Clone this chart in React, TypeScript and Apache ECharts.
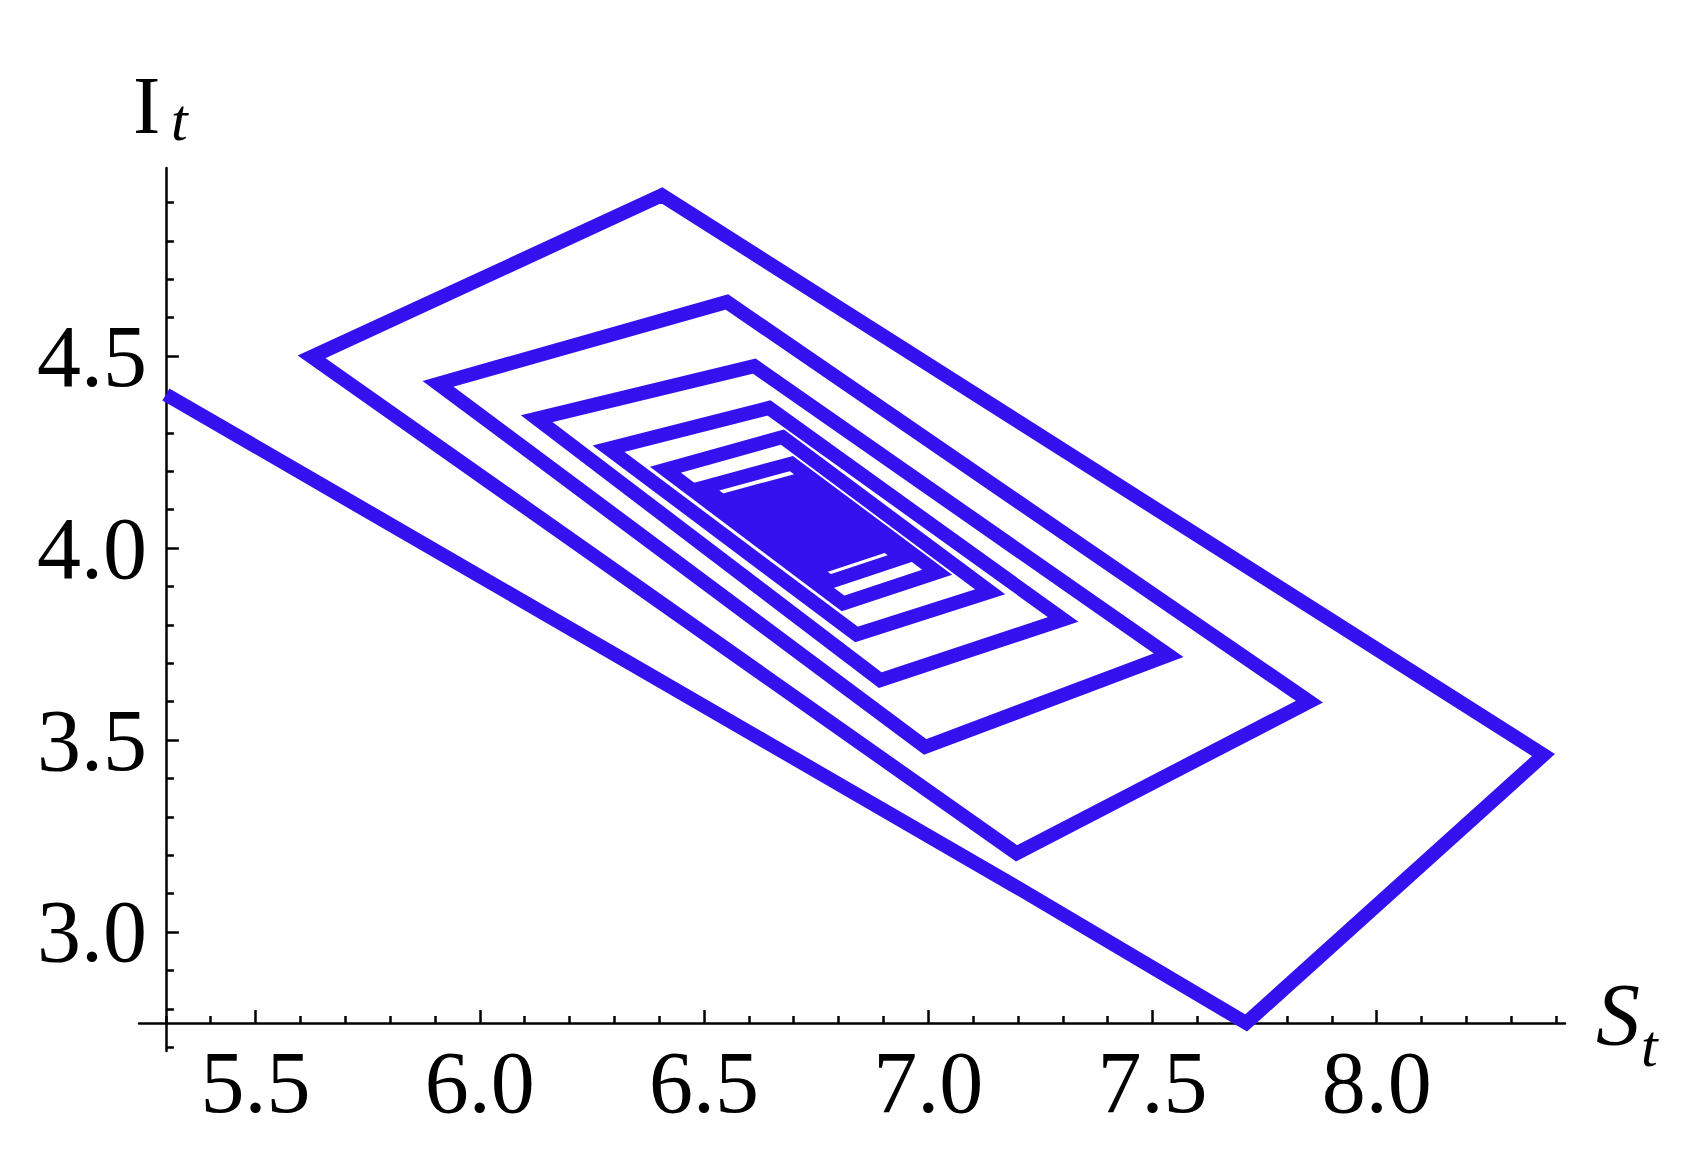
import React, { useEffect, useRef } from "react";
import * as echarts from "echarts";

// Trajectory (S_t, I_t), in time order
const S_VALUES = [
  5.3, 7.197, 7.709, 8.372, 6.406, 5.625, 7.197, 7.85, 6.551, 5.907,
  6.993, 7.536, 6.612, 6.127, 6.893, 7.301, 6.645, 6.287, 6.84, 7.138,
  6.675, 6.414, 6.81, 7.02, 6.695, 6.499, 6.78, 6.943, 6.712, 6.563,
  6.764, 6.883, 6.714, 6.604, 6.757, 6.843, 6.716, 6.636, 6.752, 6.816,
  6.718, 6.66, 6.748, 6.794, 6.72, 6.678, 6.745, 6.779, 6.723, 6.691,
  6.742, 6.768, 6.726, 6.701, 6.735,
];
const I_VALUES = [
  4.4, 3.117, 2.763, 3.461, 4.919, 4.498, 3.205, 3.6, 4.641, 4.428,
  3.482, 3.721, 4.474, 4.337, 3.656, 3.814, 4.365, 4.259, 3.775, 3.886,
  4.289, 4.204, 3.856, 3.937, 4.22, 4.158, 3.912, 3.975, 4.177, 4.13,
  3.953, 3.999, 4.148, 4.113, 3.98, 4.013, 4.125, 4.1, 3.998, 4.022,
  4.108, 4.089, 4.012, 4.03, 4.094, 4.081, 4.022, 4.035, 4.084, 4.074,
  4.03, 4.04, 4.077, 4.069, 4.052,
];

const X_MAJOR_TICKS = [5.5, 6.0, 6.5, 7.0, 7.5, 8.0];
const X_MINOR_TICKS = [
  5.3, 5.4, 5.6, 5.7, 5.8, 5.9, 6.1, 6.2, 6.3, 6.4, 6.6, 6.7, 6.8, 6.9,
  7.1, 7.2, 7.3, 7.4, 7.6, 7.7, 7.8, 7.9, 8.1, 8.2, 8.3, 8.4,
];
const Y_MAJOR_TICKS = [3.0, 3.5, 4.0, 4.5];
const Y_MINOR_TICKS = [
  2.7, 2.8, 2.9, 3.1, 3.2, 3.3, 3.4, 3.6, 3.7, 3.8, 3.9, 4.1, 4.2, 4.3,
  4.4, 4.6, 4.7, 4.8, 4.9,
];
const X_RANGE = [5.24, 8.42];
const Y_RANGE = [2.69, 4.99];
const AXES_ORIGIN = [5.3, 2.763];

const W = 1706;
const H = 1155;
const GRID = { left: 139, right: 141, top: 168, bottom: 104 };
const BLUE = "#3511f0";
const FONT = '"Liberation Serif", "Times New Roman", serif';

export default function App() {
  const ref = useRef<HTMLDivElement>(null);

  useEffect(() => {
    if (!ref.current) return;
    document.body.style.margin = "0";
    const chart = echarts.init(ref.current, undefined, { renderer: "svg" });

    const gridW = W - GRID.left - GRID.right;
    const gridH = H - GRID.top - GRID.bottom;
    const xOffset = -((AXES_ORIGIN[1] - Y_RANGE[0]) * gridH) / (Y_RANGE[1] - Y_RANGE[0]);
    const yOffset = -((AXES_ORIGIN[0] - X_RANGE[0]) * gridW) / (X_RANGE[1] - X_RANGE[0]);

    const axisLineStyle = { color: "#000", width: 2.5 };
    const tickLine = { color: "#000", width: 2.5 };
    const labelBase = {
      fontFamily: FONT,
      fontSize: 88,
      color: "#000",
      formatter: (v: number) => v.toFixed(1),
    };

    const option: any = {
      animation: false,
      backgroundColor: "#ffffff",
      grid: { ...GRID, containLabel: false, outerBoundsMode: "none" },
      xAxis: [
        {
          type: "value",
          position: "bottom",
          min: X_RANGE[0],
          max: X_RANGE[1],
          offset: xOffset,
          axisLine: { show: true, onZero: false, lineStyle: axisLineStyle },
          axisTick: { show: true, inside: true, length: 13, customValues: X_MAJOR_TICKS, lineStyle: tickLine },
          axisLabel: { ...labelBase, customValues: X_MAJOR_TICKS, margin: 16 },
          splitLine: { show: false },
        },
        {
          type: "value",
          position: "bottom",
          min: X_RANGE[0],
          max: X_RANGE[1],
          offset: xOffset,
          axisLine: { show: false, onZero: false },
          axisTick: { show: true, inside: true, length: 7, customValues: X_MINOR_TICKS, lineStyle: tickLine },
          axisLabel: { show: false },
          splitLine: { show: false },
        },
      ],
      yAxis: [
        {
          type: "value",
          position: "left",
          min: Y_RANGE[0],
          max: Y_RANGE[1],
          offset: yOffset,
          axisLine: { show: true, onZero: false, lineStyle: axisLineStyle },
          axisTick: { show: true, inside: true, length: 13, customValues: Y_MAJOR_TICKS, lineStyle: tickLine },
          axisLabel: { ...labelBase, customValues: Y_MAJOR_TICKS, margin: 19 },
          splitLine: { show: false },
        },
        {
          type: "value",
          position: "left",
          min: Y_RANGE[0],
          max: Y_RANGE[1],
          offset: yOffset,
          axisLine: { show: false, onZero: false },
          axisTick: { show: true, inside: true, length: 8, customValues: Y_MINOR_TICKS, lineStyle: tickLine },
          axisLabel: { show: false },
          splitLine: { show: false },
        },
      ],
      graphic: [
        { type: "text", left: 133, top: 64, style: { text: "I", font: `82px ${FONT}`, fill: "#000" } },
        { type: "text", left: 171, top: 90, style: { text: "t", font: `italic 60px ${FONT}`, fill: "#000" } },
        { type: "text", left: 1596, top: 970, style: { text: "S", font: `italic 88px ${FONT}`, fill: "#000" } },
        { type: "text", left: 1641, top: 1016, style: { text: "t", font: `italic 60px ${FONT}`, fill: "#000" } },
      ],
      series: [
        {
          type: "line",
          xAxisIndex: 0,
          yAxisIndex: 0,
          data: S_VALUES.map((s, i) => [s, I_VALUES[i]]),
          showSymbol: false,
          symbol: "none",
          clip: false,
          silent: true,
          lineStyle: { color: BLUE, width: 14, join: "miter", cap: "butt", miterLimit: 10 },
        },
      ],
    };

    chart.setOption(option);
    return () => chart.dispose();
  }, []);

  return <div ref={ref} style={{ position: "absolute", left: 0, top: 0, width: W, height: H }} />;
}
